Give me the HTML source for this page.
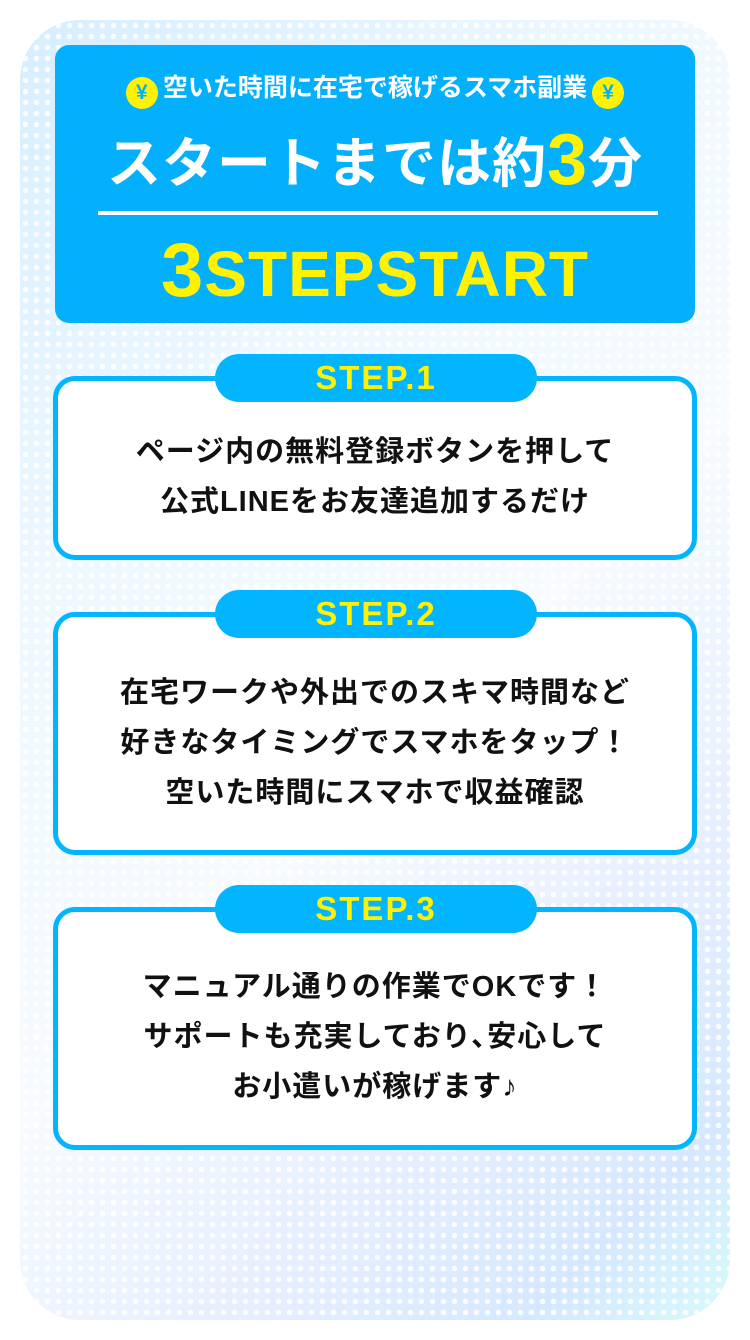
<!DOCTYPE html>
<html><head><meta charset="utf-8"><style>
*{margin:0;padding:0;box-sizing:border-box}
body{width:750px;height:1340px;background:#fff;position:relative;overflow:hidden;font-family:"Liberation Sans","Noto Sans CJK JP",sans-serif;}
.bg{position:absolute;left:20px;top:20px;width:710px;height:1300px;border-radius:60px;
background:linear-gradient(135deg,#d6eeff 0%,#eef8ff 30%,#f7fbff 55%,#e6efff 75%,#d6e8ff 90%,#d6fafa 100%);}
.bg:after{content:"";position:absolute;inset:0;border-radius:60px;
background-image:radial-gradient(circle,rgba(255,255,255,0.85) 2.5px,transparent 3px);background-size:11px 11px;}
.head{position:absolute;left:55px;top:45px;width:640px;height:278px;background:#04b0fb;border-radius:14px;color:#fff;text-align:center}
.sub{position:absolute;top:26px;left:0;width:100%;font-size:25px;font-weight:bold;line-height:34px}
.yen{display:inline-block;width:32px;height:32px;border-radius:50%;background:#fff200;color:#04b0fb;font-size:21px;line-height:32px;vertical-align:-3px;margin:0 5px}
.t1{position:absolute;top:80px;left:0;width:100%;font-size:54px;font-weight:bold;letter-spacing:1px;line-height:70px}
.t1 b{color:#fff200;font-size:72px;vertical-align:-2px}
.line{position:absolute;left:43px;top:166px;width:560px;height:4px;background:#fff}
.t2{position:absolute;top:186px;left:0;width:100%;font-size:64px;font-weight:bold;color:#fff200;letter-spacing:1px;line-height:80px}
.t2 b{font-size:76px}
.box{position:absolute;left:53px;width:644px;background:#fff;border:5px solid #03b4ff;border-radius:22px;text-align:center;font-size:29px;letter-spacing:1px;font-weight:bold;color:#111;line-height:50px}
.pill{position:absolute;left:215px;width:322px;height:48px;border-radius:24px;background:#03b4ff;color:#fff200;font-size:33px;font-weight:bold;text-align:center;line-height:48px;letter-spacing:2px}
</style></head><body>
<div class="bg"></div>
<div class="head">
<div class="sub"><span class="yen">¥</span>空いた時間に在宅で稼げるスマホ副業<span class="yen">¥</span></div>
<div class="t1">スタートまでは約<b>3</b>分</div>
<div class="line"></div>
<div class="t2"><b>3</b>STEPSTART</div>
</div>
<div class="box" style="top:376px;height:184px;padding-top:46px">ページ内の無料登録ボタンを押して<br>公式LINEをお友達追加するだけ</div>
<div class="pill" style="top:354px">STEP.1</div>
<div class="box" style="top:612px;height:243px;padding-top:51px">在宅ワークや外出でのスキマ時間など<br>好きなタイミングでスマホをタップ！<br>空いた時間にスマホで収益確認</div>
<div class="pill" style="top:590px">STEP.2</div>
<div class="box" style="top:907px;height:243px;padding-top:50px">マニュアル通りの作業でOKです！<br>サポートも充実しており､安心して<br>お小遣いが稼げます♪</div>
<div class="pill" style="top:885px">STEP.3</div>
</body></html>
